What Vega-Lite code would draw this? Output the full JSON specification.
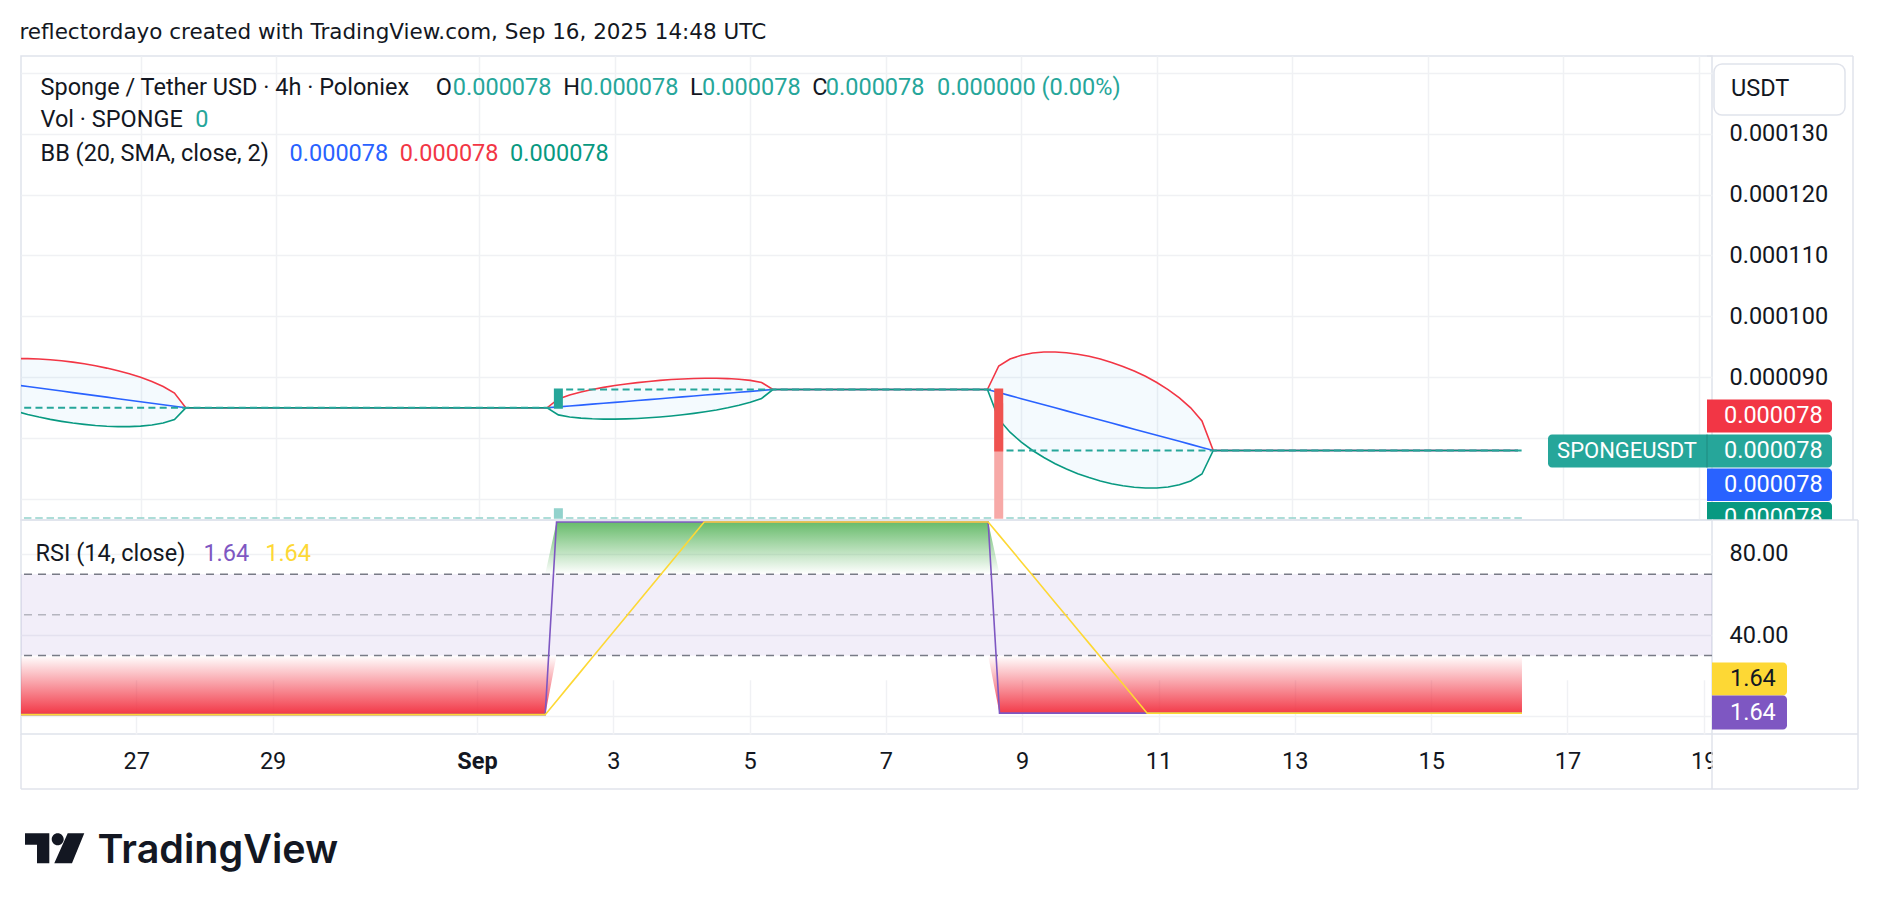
{
"$schema": "https://vega.github.io/schema/vega-lite/v6.json",
"background": "white",
"padding": {"left": 19, "top": 21, "right": 0, "bottom": 0},
"title": {"text": "reflectordayo created with TradingView.com, Sep 16, 2025 14:48 UTC", "anchor": "start", "frame": "bounds", "font": "DejaVu Sans", "fontSize": 21.5, "fontWeight": "normal", "color": "#131722", "offset": 11.5},
"config": {
  "font": "Roboto",
  "view": {"stroke": "#e0e3eb", "strokeWidth": 1.5},
  "axis": {"domain": false, "ticks": false, "tickSize": 0, "labelFont": "Roboto", "labelFontSize": 23.5, "labelColor": "#131722", "gridColor": "#f0f1f4", "gridWidth": 1.5}
},
"datasets": {"bars": [
{"time":"2025-08-25T04:00:00Z","open":0.000085,"close":0.000085,"volume":0,"upper":0.00009308,"basis":0.00008875,"lower":0.00008442,"rsi":0.9,"rsi_ma":0.9},
{"time":"2025-08-25T08:00:00Z","open":0.000085,"close":0.000085,"volume":0,"upper":0.00009308,"basis":0.0000885,"lower":0.00008392,"rsi":0.9,"rsi_ma":0.9},
{"time":"2025-08-25T12:00:00Z","open":0.000085,"close":0.000085,"volume":0,"upper":0.00009302,"basis":0.00008825,"lower":0.00008348,"rsi":0.9,"rsi_ma":0.9},
{"time":"2025-08-25T16:00:00Z","open":0.000085,"close":0.000085,"volume":0,"upper":0.0000929,"basis":0.000088,"lower":0.0000831,"rsi":0.9,"rsi_ma":0.9},
{"time":"2025-08-25T20:00:00Z","open":0.000085,"close":0.000085,"volume":0,"upper":0.00009272,"basis":0.00008775,"lower":0.00008278,"rsi":0.9,"rsi_ma":0.9},
{"time":"2025-08-26T00:00:00Z","open":0.000085,"close":0.000085,"volume":0,"upper":0.0000925,"basis":0.0000875,"lower":0.0000825,"rsi":0.9,"rsi_ma":0.9},
{"time":"2025-08-26T04:00:00Z","open":0.000085,"close":0.000085,"volume":0,"upper":0.00009222,"basis":0.00008725,"lower":0.00008228,"rsi":0.9,"rsi_ma":0.9},
{"time":"2025-08-26T08:00:00Z","open":0.000085,"close":0.000085,"volume":0,"upper":0.0000919,"basis":0.000087,"lower":0.0000821,"rsi":0.9,"rsi_ma":0.9},
{"time":"2025-08-26T12:00:00Z","open":0.000085,"close":0.000085,"volume":0,"upper":0.00009152,"basis":0.00008675,"lower":0.00008198,"rsi":0.9,"rsi_ma":0.9},
{"time":"2025-08-26T16:00:00Z","open":0.000085,"close":0.000085,"volume":0,"upper":0.00009108,"basis":0.0000865,"lower":0.00008192,"rsi":0.9,"rsi_ma":0.9},
{"time":"2025-08-26T20:00:00Z","open":0.000085,"close":0.000085,"volume":0,"upper":0.00009058,"basis":0.00008625,"lower":0.00008192,"rsi":0.9,"rsi_ma":0.9},
{"time":"2025-08-27T00:00:00Z","open":0.000085,"close":0.000085,"volume":0,"upper":0.00009,"basis":0.000086,"lower":0.000082,"rsi":0.9,"rsi_ma":0.9},
{"time":"2025-08-27T04:00:00Z","open":0.000085,"close":0.000085,"volume":0,"upper":0.00008932,"basis":0.00008575,"lower":0.00008218,"rsi":0.9,"rsi_ma":0.9},
{"time":"2025-08-27T08:00:00Z","open":0.000085,"close":0.000085,"volume":0,"upper":0.0000885,"basis":0.0000855,"lower":0.0000825,"rsi":0.9,"rsi_ma":0.9},
{"time":"2025-08-27T12:00:00Z","open":0.000085,"close":0.000085,"volume":0,"upper":0.00008743,"basis":0.00008525,"lower":0.00008307,"rsi":0.9,"rsi_ma":0.9},
{"time":"2025-08-27T16:00:00Z","open":0.000085,"close":0.000085,"volume":0,"upper":0.000085,"basis":0.000085,"lower":0.000085,"rsi":0.9,"rsi_ma":0.9},
{"time":"2025-08-27T20:00:00Z","open":0.000085,"close":0.000085,"volume":0,"upper":0.000085,"basis":0.000085,"lower":0.000085,"rsi":0.9,"rsi_ma":0.9},
{"time":"2025-08-28T00:00:00Z","open":0.000085,"close":0.000085,"volume":0,"upper":0.000085,"basis":0.000085,"lower":0.000085,"rsi":0.9,"rsi_ma":0.9},
{"time":"2025-08-28T04:00:00Z","open":0.000085,"close":0.000085,"volume":0,"upper":0.000085,"basis":0.000085,"lower":0.000085,"rsi":0.9,"rsi_ma":0.9},
{"time":"2025-08-28T08:00:00Z","open":0.000085,"close":0.000085,"volume":0,"upper":0.000085,"basis":0.000085,"lower":0.000085,"rsi":0.9,"rsi_ma":0.9},
{"time":"2025-08-28T12:00:00Z","open":0.000085,"close":0.000085,"volume":0,"upper":0.000085,"basis":0.000085,"lower":0.000085,"rsi":0.9,"rsi_ma":0.9},
{"time":"2025-08-28T16:00:00Z","open":0.000085,"close":0.000085,"volume":0,"upper":0.000085,"basis":0.000085,"lower":0.000085,"rsi":0.9,"rsi_ma":0.9},
{"time":"2025-08-28T20:00:00Z","open":0.000085,"close":0.000085,"volume":0,"upper":0.000085,"basis":0.000085,"lower":0.000085,"rsi":0.9,"rsi_ma":0.9},
{"time":"2025-08-29T00:00:00Z","open":0.000085,"close":0.000085,"volume":0,"upper":0.000085,"basis":0.000085,"lower":0.000085,"rsi":0.9,"rsi_ma":0.9},
{"time":"2025-08-29T04:00:00Z","open":0.000085,"close":0.000085,"volume":0,"upper":0.000085,"basis":0.000085,"lower":0.000085,"rsi":0.9,"rsi_ma":0.9},
{"time":"2025-08-29T08:00:00Z","open":0.000085,"close":0.000085,"volume":0,"upper":0.000085,"basis":0.000085,"lower":0.000085,"rsi":0.9,"rsi_ma":0.9},
{"time":"2025-08-29T12:00:00Z","open":0.000085,"close":0.000085,"volume":0,"upper":0.000085,"basis":0.000085,"lower":0.000085,"rsi":0.9,"rsi_ma":0.9},
{"time":"2025-08-29T16:00:00Z","open":0.000085,"close":0.000085,"volume":0,"upper":0.000085,"basis":0.000085,"lower":0.000085,"rsi":0.9,"rsi_ma":0.9},
{"time":"2025-08-29T20:00:00Z","open":0.000085,"close":0.000085,"volume":0,"upper":0.000085,"basis":0.000085,"lower":0.000085,"rsi":0.9,"rsi_ma":0.9},
{"time":"2025-08-30T00:00:00Z","open":0.000085,"close":0.000085,"volume":0,"upper":0.000085,"basis":0.000085,"lower":0.000085,"rsi":0.9,"rsi_ma":0.9},
{"time":"2025-08-30T04:00:00Z","open":0.000085,"close":0.000085,"volume":0,"upper":0.000085,"basis":0.000085,"lower":0.000085,"rsi":0.9,"rsi_ma":0.9},
{"time":"2025-08-30T08:00:00Z","open":0.000085,"close":0.000085,"volume":0,"upper":0.000085,"basis":0.000085,"lower":0.000085,"rsi":0.9,"rsi_ma":0.9},
{"time":"2025-08-30T12:00:00Z","open":0.000085,"close":0.000085,"volume":0,"upper":0.000085,"basis":0.000085,"lower":0.000085,"rsi":0.9,"rsi_ma":0.9},
{"time":"2025-08-30T16:00:00Z","open":0.000085,"close":0.000085,"volume":0,"upper":0.000085,"basis":0.000085,"lower":0.000085,"rsi":0.9,"rsi_ma":0.9},
{"time":"2025-08-30T20:00:00Z","open":0.000085,"close":0.000085,"volume":0,"upper":0.000085,"basis":0.000085,"lower":0.000085,"rsi":0.9,"rsi_ma":0.9},
{"time":"2025-08-31T00:00:00Z","open":0.000085,"close":0.000085,"volume":0,"upper":0.000085,"basis":0.000085,"lower":0.000085,"rsi":0.9,"rsi_ma":0.9},
{"time":"2025-08-31T04:00:00Z","open":0.000085,"close":0.000085,"volume":0,"upper":0.000085,"basis":0.000085,"lower":0.000085,"rsi":0.9,"rsi_ma":0.9},
{"time":"2025-08-31T08:00:00Z","open":0.000085,"close":0.000085,"volume":0,"upper":0.000085,"basis":0.000085,"lower":0.000085,"rsi":0.9,"rsi_ma":0.9},
{"time":"2025-08-31T12:00:00Z","open":0.000085,"close":0.000085,"volume":0,"upper":0.000085,"basis":0.000085,"lower":0.000085,"rsi":0.9,"rsi_ma":0.9},
{"time":"2025-08-31T16:00:00Z","open":0.000085,"close":0.000085,"volume":0,"upper":0.000085,"basis":0.000085,"lower":0.000085,"rsi":0.9,"rsi_ma":0.9},
{"time":"2025-08-31T20:00:00Z","open":0.000085,"close":0.000085,"volume":0,"upper":0.000085,"basis":0.000085,"lower":0.000085,"rsi":0.9,"rsi_ma":0.9},
{"time":"2025-09-01T00:00:00Z","open":0.000085,"close":0.000085,"volume":0,"upper":0.000085,"basis":0.000085,"lower":0.000085,"rsi":0.9,"rsi_ma":0.9},
{"time":"2025-09-01T04:00:00Z","open":0.000085,"close":0.000085,"volume":0,"upper":0.000085,"basis":0.000085,"lower":0.000085,"rsi":0.9,"rsi_ma":0.9},
{"time":"2025-09-01T08:00:00Z","open":0.000085,"close":0.000085,"volume":0,"upper":0.000085,"basis":0.000085,"lower":0.000085,"rsi":0.9,"rsi_ma":0.9},
{"time":"2025-09-01T12:00:00Z","open":0.000085,"close":0.000085,"volume":0,"upper":0.000085,"basis":0.000085,"lower":0.000085,"rsi":0.9,"rsi_ma":0.9},
{"time":"2025-09-01T16:00:00Z","open":0.000085,"close":0.000085,"volume":0,"upper":0.000085,"basis":0.000085,"lower":0.000085,"rsi":0.9,"rsi_ma":0.9},
{"time":"2025-09-01T20:00:00Z","open":0.000085,"close":0.000085,"volume":0,"upper":0.000085,"basis":0.000085,"lower":0.000085,"rsi":0.9,"rsi_ma":0.9},
{"time":"2025-09-02T00:00:00Z","open":0.000085,"close":0.000085,"volume":0,"upper":0.000085,"basis":0.000085,"lower":0.000085,"rsi":0.9,"rsi_ma":0.9},
{"time":"2025-09-02T04:00:00Z","open":0.000085,"close":0.000088,"volume":78,"upper":0.00008646,"basis":0.00008515,"lower":0.00008384,"rsi":95.7,"rsi_ma":7.67},
{"time":"2025-09-02T08:00:00Z","open":0.000088,"close":0.000088,"volume":0,"upper":0.0000871,"basis":0.0000853,"lower":0.0000835,"rsi":95.7,"rsi_ma":14.44},
{"time":"2025-09-02T12:00:00Z","open":0.000088,"close":0.000088,"volume":0,"upper":0.00008759,"basis":0.00008545,"lower":0.00008331,"rsi":95.7,"rsi_ma":21.21},
{"time":"2025-09-02T16:00:00Z","open":0.000088,"close":0.000088,"volume":0,"upper":0.000088,"basis":0.0000856,"lower":0.0000832,"rsi":95.7,"rsi_ma":27.99},
{"time":"2025-09-02T20:00:00Z","open":0.000088,"close":0.000088,"volume":0,"upper":0.00008835,"basis":0.00008575,"lower":0.00008315,"rsi":95.7,"rsi_ma":34.76},
{"time":"2025-09-03T00:00:00Z","open":0.000088,"close":0.000088,"volume":0,"upper":0.00008865,"basis":0.0000859,"lower":0.00008315,"rsi":95.7,"rsi_ma":41.53},
{"time":"2025-09-03T04:00:00Z","open":0.000088,"close":0.000088,"volume":0,"upper":0.00008891,"basis":0.00008605,"lower":0.00008319,"rsi":95.7,"rsi_ma":48.3},
{"time":"2025-09-03T08:00:00Z","open":0.000088,"close":0.000088,"volume":0,"upper":0.00008914,"basis":0.0000862,"lower":0.00008326,"rsi":95.7,"rsi_ma":55.07},
{"time":"2025-09-03T12:00:00Z","open":0.000088,"close":0.000088,"volume":0,"upper":0.00008933,"basis":0.00008635,"lower":0.00008337,"rsi":95.7,"rsi_ma":61.84},
{"time":"2025-09-03T16:00:00Z","open":0.000088,"close":0.000088,"volume":0,"upper":0.0000895,"basis":0.0000865,"lower":0.0000835,"rsi":95.7,"rsi_ma":68.61},
{"time":"2025-09-03T20:00:00Z","open":0.000088,"close":0.000088,"volume":0,"upper":0.00008964,"basis":0.00008665,"lower":0.00008367,"rsi":95.7,"rsi_ma":75.39},
{"time":"2025-09-04T00:00:00Z","open":0.000088,"close":0.000088,"volume":0,"upper":0.00008974,"basis":0.0000868,"lower":0.00008386,"rsi":95.7,"rsi_ma":82.16},
{"time":"2025-09-04T04:00:00Z","open":0.000088,"close":0.000088,"volume":0,"upper":0.00008981,"basis":0.00008695,"lower":0.00008409,"rsi":95.7,"rsi_ma":88.93},
{"time":"2025-09-04T08:00:00Z","open":0.000088,"close":0.000088,"volume":0,"upper":0.00008985,"basis":0.0000871,"lower":0.00008435,"rsi":95.7,"rsi_ma":95.7},
{"time":"2025-09-04T12:00:00Z","open":0.000088,"close":0.000088,"volume":0,"upper":0.00008985,"basis":0.00008725,"lower":0.00008465,"rsi":95.7,"rsi_ma":95.7},
{"time":"2025-09-04T16:00:00Z","open":0.000088,"close":0.000088,"volume":0,"upper":0.0000898,"basis":0.0000874,"lower":0.000085,"rsi":95.7,"rsi_ma":95.7},
{"time":"2025-09-04T20:00:00Z","open":0.000088,"close":0.000088,"volume":0,"upper":0.00008969,"basis":0.00008755,"lower":0.00008541,"rsi":95.7,"rsi_ma":95.7},
{"time":"2025-09-05T00:00:00Z","open":0.000088,"close":0.000088,"volume":0,"upper":0.0000895,"basis":0.0000877,"lower":0.0000859,"rsi":95.7,"rsi_ma":95.7},
{"time":"2025-09-05T04:00:00Z","open":0.000088,"close":0.000088,"volume":0,"upper":0.00008916,"basis":0.00008785,"lower":0.00008654,"rsi":95.7,"rsi_ma":95.7},
{"time":"2025-09-05T08:00:00Z","open":0.000088,"close":0.000088,"volume":0,"upper":0.000088,"basis":0.000088,"lower":0.000088,"rsi":95.7,"rsi_ma":95.7},
{"time":"2025-09-05T12:00:00Z","open":0.000088,"close":0.000088,"volume":0,"upper":0.000088,"basis":0.000088,"lower":0.000088,"rsi":95.7,"rsi_ma":95.7},
{"time":"2025-09-05T16:00:00Z","open":0.000088,"close":0.000088,"volume":0,"upper":0.000088,"basis":0.000088,"lower":0.000088,"rsi":95.7,"rsi_ma":95.7},
{"time":"2025-09-05T20:00:00Z","open":0.000088,"close":0.000088,"volume":0,"upper":0.000088,"basis":0.000088,"lower":0.000088,"rsi":95.7,"rsi_ma":95.7},
{"time":"2025-09-06T00:00:00Z","open":0.000088,"close":0.000088,"volume":0,"upper":0.000088,"basis":0.000088,"lower":0.000088,"rsi":95.7,"rsi_ma":95.7},
{"time":"2025-09-06T04:00:00Z","open":0.000088,"close":0.000088,"volume":0,"upper":0.000088,"basis":0.000088,"lower":0.000088,"rsi":95.7,"rsi_ma":95.7},
{"time":"2025-09-06T08:00:00Z","open":0.000088,"close":0.000088,"volume":0,"upper":0.000088,"basis":0.000088,"lower":0.000088,"rsi":95.7,"rsi_ma":95.7},
{"time":"2025-09-06T12:00:00Z","open":0.000088,"close":0.000088,"volume":0,"upper":0.000088,"basis":0.000088,"lower":0.000088,"rsi":95.7,"rsi_ma":95.7},
{"time":"2025-09-06T16:00:00Z","open":0.000088,"close":0.000088,"volume":0,"upper":0.000088,"basis":0.000088,"lower":0.000088,"rsi":95.7,"rsi_ma":95.7},
{"time":"2025-09-06T20:00:00Z","open":0.000088,"close":0.000088,"volume":0,"upper":0.000088,"basis":0.000088,"lower":0.000088,"rsi":95.7,"rsi_ma":95.7},
{"time":"2025-09-07T00:00:00Z","open":0.000088,"close":0.000088,"volume":0,"upper":0.000088,"basis":0.000088,"lower":0.000088,"rsi":95.7,"rsi_ma":95.7},
{"time":"2025-09-07T04:00:00Z","open":0.000088,"close":0.000088,"volume":0,"upper":0.000088,"basis":0.000088,"lower":0.000088,"rsi":95.7,"rsi_ma":95.7},
{"time":"2025-09-07T08:00:00Z","open":0.000088,"close":0.000088,"volume":0,"upper":0.000088,"basis":0.000088,"lower":0.000088,"rsi":95.7,"rsi_ma":95.7},
{"time":"2025-09-07T12:00:00Z","open":0.000088,"close":0.000088,"volume":0,"upper":0.000088,"basis":0.000088,"lower":0.000088,"rsi":95.7,"rsi_ma":95.7},
{"time":"2025-09-07T16:00:00Z","open":0.000088,"close":0.000088,"volume":0,"upper":0.000088,"basis":0.000088,"lower":0.000088,"rsi":95.7,"rsi_ma":95.7},
{"time":"2025-09-07T20:00:00Z","open":0.000088,"close":0.000088,"volume":0,"upper":0.000088,"basis":0.000088,"lower":0.000088,"rsi":95.7,"rsi_ma":95.7},
{"time":"2025-09-08T00:00:00Z","open":0.000088,"close":0.000088,"volume":0,"upper":0.000088,"basis":0.000088,"lower":0.000088,"rsi":95.7,"rsi_ma":95.7},
{"time":"2025-09-08T04:00:00Z","open":0.000088,"close":0.000088,"volume":0,"upper":0.000088,"basis":0.000088,"lower":0.000088,"rsi":95.7,"rsi_ma":95.7},
{"time":"2025-09-08T08:00:00Z","open":0.000088,"close":0.000088,"volume":0,"upper":0.000088,"basis":0.000088,"lower":0.000088,"rsi":95.7,"rsi_ma":95.7},
{"time":"2025-09-08T12:00:00Z","open":0.000088,"close":0.000088,"volume":0,"upper":0.000088,"basis":0.000088,"lower":0.000088,"rsi":95.7,"rsi_ma":95.7},
{"time":"2025-09-08T16:00:00Z","open":0.000088,"close":0.000078,"volume":1000,"upper":0.00009186,"basis":0.0000875,"lower":0.00008314,"rsi":1.64,"rsi_ma":88.98},
{"time":"2025-09-08T20:00:00Z","open":0.000078,"close":0.000078,"volume":0,"upper":0.000093,"basis":0.000087,"lower":0.000081,"rsi":1.64,"rsi_ma":82.26},
{"time":"2025-09-09T00:00:00Z","open":0.000078,"close":0.000078,"volume":0,"upper":0.00009364,"basis":0.0000865,"lower":0.00007936,"rsi":1.64,"rsi_ma":75.54},
{"time":"2025-09-09T04:00:00Z","open":0.000078,"close":0.000078,"volume":0,"upper":0.000094,"basis":0.000086,"lower":0.000078,"rsi":1.64,"rsi_ma":68.83},
{"time":"2025-09-09T08:00:00Z","open":0.000078,"close":0.000078,"volume":0,"upper":0.00009416,"basis":0.0000855,"lower":0.00007684,"rsi":1.64,"rsi_ma":62.11},
{"time":"2025-09-09T12:00:00Z","open":0.000078,"close":0.000078,"volume":0,"upper":0.00009417,"basis":0.000085,"lower":0.00007583,"rsi":1.64,"rsi_ma":55.39},
{"time":"2025-09-09T16:00:00Z","open":0.000078,"close":0.000078,"volume":0,"upper":0.00009404,"basis":0.0000845,"lower":0.00007496,"rsi":1.64,"rsi_ma":48.67},
{"time":"2025-09-09T20:00:00Z","open":0.000078,"close":0.000078,"volume":0,"upper":0.0000938,"basis":0.000084,"lower":0.0000742,"rsi":1.64,"rsi_ma":41.95},
{"time":"2025-09-10T00:00:00Z","open":0.000078,"close":0.000078,"volume":0,"upper":0.00009345,"basis":0.0000835,"lower":0.00007355,"rsi":1.64,"rsi_ma":35.23},
{"time":"2025-09-10T04:00:00Z","open":0.000078,"close":0.000078,"volume":0,"upper":0.000093,"basis":0.000083,"lower":0.000073,"rsi":1.64,"rsi_ma":28.52},
{"time":"2025-09-10T08:00:00Z","open":0.000078,"close":0.000078,"volume":0,"upper":0.00009245,"basis":0.0000825,"lower":0.00007255,"rsi":1.64,"rsi_ma":21.8},
{"time":"2025-09-10T12:00:00Z","open":0.000078,"close":0.000078,"volume":0,"upper":0.0000918,"basis":0.000082,"lower":0.0000722,"rsi":1.64,"rsi_ma":15.08},
{"time":"2025-09-10T16:00:00Z","open":0.000078,"close":0.000078,"volume":0,"upper":0.00009104,"basis":0.0000815,"lower":0.00007196,"rsi":1.64,"rsi_ma":8.36},
{"time":"2025-09-10T20:00:00Z","open":0.000078,"close":0.000078,"volume":0,"upper":0.00009017,"basis":0.000081,"lower":0.00007183,"rsi":1.64,"rsi_ma":1.64},
{"time":"2025-09-11T00:00:00Z","open":0.000078,"close":0.000078,"volume":0,"upper":0.00008916,"basis":0.0000805,"lower":0.00007184,"rsi":1.64,"rsi_ma":1.64},
{"time":"2025-09-11T04:00:00Z","open":0.000078,"close":0.000078,"volume":0,"upper":0.000088,"basis":0.00008,"lower":0.000072,"rsi":1.64,"rsi_ma":1.64},
{"time":"2025-09-11T08:00:00Z","open":0.000078,"close":0.000078,"volume":0,"upper":0.00008664,"basis":0.0000795,"lower":0.00007236,"rsi":1.64,"rsi_ma":1.64},
{"time":"2025-09-11T12:00:00Z","open":0.000078,"close":0.000078,"volume":0,"upper":0.000085,"basis":0.000079,"lower":0.000073,"rsi":1.64,"rsi_ma":1.64},
{"time":"2025-09-11T16:00:00Z","open":0.000078,"close":0.000078,"volume":0,"upper":0.00008286,"basis":0.0000785,"lower":0.00007414,"rsi":1.64,"rsi_ma":1.64},
{"time":"2025-09-11T20:00:00Z","open":0.000078,"close":0.000078,"volume":0,"upper":0.000078,"basis":0.000078,"lower":0.000078,"rsi":1.64,"rsi_ma":1.64},
{"time":"2025-09-12T00:00:00Z","open":0.000078,"close":0.000078,"volume":0,"upper":0.000078,"basis":0.000078,"lower":0.000078,"rsi":1.64,"rsi_ma":1.64},
{"time":"2025-09-12T04:00:00Z","open":0.000078,"close":0.000078,"volume":0,"upper":0.000078,"basis":0.000078,"lower":0.000078,"rsi":1.64,"rsi_ma":1.64},
{"time":"2025-09-12T08:00:00Z","open":0.000078,"close":0.000078,"volume":0,"upper":0.000078,"basis":0.000078,"lower":0.000078,"rsi":1.64,"rsi_ma":1.64},
{"time":"2025-09-12T12:00:00Z","open":0.000078,"close":0.000078,"volume":0,"upper":0.000078,"basis":0.000078,"lower":0.000078,"rsi":1.64,"rsi_ma":1.64},
{"time":"2025-09-12T16:00:00Z","open":0.000078,"close":0.000078,"volume":0,"upper":0.000078,"basis":0.000078,"lower":0.000078,"rsi":1.64,"rsi_ma":1.64},
{"time":"2025-09-12T20:00:00Z","open":0.000078,"close":0.000078,"volume":0,"upper":0.000078,"basis":0.000078,"lower":0.000078,"rsi":1.64,"rsi_ma":1.64},
{"time":"2025-09-13T00:00:00Z","open":0.000078,"close":0.000078,"volume":0,"upper":0.000078,"basis":0.000078,"lower":0.000078,"rsi":1.64,"rsi_ma":1.64},
{"time":"2025-09-13T04:00:00Z","open":0.000078,"close":0.000078,"volume":0,"upper":0.000078,"basis":0.000078,"lower":0.000078,"rsi":1.64,"rsi_ma":1.64},
{"time":"2025-09-13T08:00:00Z","open":0.000078,"close":0.000078,"volume":0,"upper":0.000078,"basis":0.000078,"lower":0.000078,"rsi":1.64,"rsi_ma":1.64},
{"time":"2025-09-13T12:00:00Z","open":0.000078,"close":0.000078,"volume":0,"upper":0.000078,"basis":0.000078,"lower":0.000078,"rsi":1.64,"rsi_ma":1.64},
{"time":"2025-09-13T16:00:00Z","open":0.000078,"close":0.000078,"volume":0,"upper":0.000078,"basis":0.000078,"lower":0.000078,"rsi":1.64,"rsi_ma":1.64},
{"time":"2025-09-13T20:00:00Z","open":0.000078,"close":0.000078,"volume":0,"upper":0.000078,"basis":0.000078,"lower":0.000078,"rsi":1.64,"rsi_ma":1.64},
{"time":"2025-09-14T00:00:00Z","open":0.000078,"close":0.000078,"volume":0,"upper":0.000078,"basis":0.000078,"lower":0.000078,"rsi":1.64,"rsi_ma":1.64},
{"time":"2025-09-14T04:00:00Z","open":0.000078,"close":0.000078,"volume":0,"upper":0.000078,"basis":0.000078,"lower":0.000078,"rsi":1.64,"rsi_ma":1.64},
{"time":"2025-09-14T08:00:00Z","open":0.000078,"close":0.000078,"volume":0,"upper":0.000078,"basis":0.000078,"lower":0.000078,"rsi":1.64,"rsi_ma":1.64},
{"time":"2025-09-14T12:00:00Z","open":0.000078,"close":0.000078,"volume":0,"upper":0.000078,"basis":0.000078,"lower":0.000078,"rsi":1.64,"rsi_ma":1.64},
{"time":"2025-09-14T16:00:00Z","open":0.000078,"close":0.000078,"volume":0,"upper":0.000078,"basis":0.000078,"lower":0.000078,"rsi":1.64,"rsi_ma":1.64},
{"time":"2025-09-14T20:00:00Z","open":0.000078,"close":0.000078,"volume":0,"upper":0.000078,"basis":0.000078,"lower":0.000078,"rsi":1.64,"rsi_ma":1.64},
{"time":"2025-09-15T00:00:00Z","open":0.000078,"close":0.000078,"volume":0,"upper":0.000078,"basis":0.000078,"lower":0.000078,"rsi":1.64,"rsi_ma":1.64},
{"time":"2025-09-15T04:00:00Z","open":0.000078,"close":0.000078,"volume":0,"upper":0.000078,"basis":0.000078,"lower":0.000078,"rsi":1.64,"rsi_ma":1.64},
{"time":"2025-09-15T08:00:00Z","open":0.000078,"close":0.000078,"volume":0,"upper":0.000078,"basis":0.000078,"lower":0.000078,"rsi":1.64,"rsi_ma":1.64},
{"time":"2025-09-15T12:00:00Z","open":0.000078,"close":0.000078,"volume":0,"upper":0.000078,"basis":0.000078,"lower":0.000078,"rsi":1.64,"rsi_ma":1.64},
{"time":"2025-09-15T16:00:00Z","open":0.000078,"close":0.000078,"volume":0,"upper":0.000078,"basis":0.000078,"lower":0.000078,"rsi":1.64,"rsi_ma":1.64},
{"time":"2025-09-15T20:00:00Z","open":0.000078,"close":0.000078,"volume":0,"upper":0.000078,"basis":0.000078,"lower":0.000078,"rsi":1.64,"rsi_ma":1.64},
{"time":"2025-09-16T00:00:00Z","open":0.000078,"close":0.000078,"volume":0,"upper":0.000078,"basis":0.000078,"lower":0.000078,"rsi":1.64,"rsi_ma":1.64},
{"time":"2025-09-16T04:00:00Z","open":0.000078,"close":0.000078,"volume":0,"upper":0.000078,"basis":0.000078,"lower":0.000078,"rsi":1.64,"rsi_ma":1.64},
{"time":"2025-09-16T08:00:00Z","open":0.000078,"close":0.000078,"volume":0,"upper":0.000078,"basis":0.000078,"lower":0.000078,"rsi":1.64,"rsi_ma":1.64}
]},
"bounds": "flush",
"spacing": 0,
"vconcat": [
{
 "width": 1691, "height": 464,
 "data": {"name": "bars"},
 "layer": [
  {"mark": {"type": "bar", "size": 7.5, "strokeWidth": 1.5, "yOffset": -2, "y2Offset": -2, "clip": true},
   "encoding": {
    "x": {"field": "time", "type": "temporal", "scale": {"type": "utc", "domain": [{"year":2025,"month":"Aug","date":25,"hours":7,"minutes":24,"utc":true},{"year":2025,"month":"Sep","date":19,"hours":2,"minutes":55,"utc":true}]},
          "axis": {"values": [{"year":2025,"month":"Aug","date":27,"utc":true},{"year":2025,"month":"Aug","date":29,"utc":true},{"year":2025,"month":"Sep","date":1,"utc":true},{"year":2025,"month":"Sep","date":3,"utc":true},{"year":2025,"month":"Sep","date":5,"utc":true},{"year":2025,"month":"Sep","date":7,"utc":true},{"year":2025,"month":"Sep","date":9,"utc":true},{"year":2025,"month":"Sep","date":11,"utc":true},{"year":2025,"month":"Sep","date":13,"utc":true},{"year":2025,"month":"Sep","date":15,"utc":true},{"year":2025,"month":"Sep","date":17,"utc":true},{"year":2025,"month":"Sep","date":19,"utc":true}], "labels": false, "grid": true, "title": null}},
    "y": {"field": "volume", "type": "quantitative", "scale": {"domain": [0, 4070], "nice": false}, "axis": null},
    "fill": {"condition": {"test": "datum.close < datum.open", "value": "#f7a9a7"}, "value": "#92d2cc"},
    "stroke": {"condition": {"test": "datum.close < datum.open", "value": "#f7a9a7"}, "value": "#92d2cc"}
   }},
  {"layer": [
   {"mark": {"type": "area", "fill": "#2196f3", "fillOpacity": 0.05, "clip": true},
    "encoding": {"x": {"field": "time", "type": "temporal"},
     "y": {"field": "upper", "type": "quantitative", "scale": {"domain": [0.00006659, 0.00014274], "nice": false, "zero": false},
           "axis": {"orient": "right", "values": [0.00007, 0.00008, 0.00009, 0.0001, 0.00011, 0.00012, 0.00013, 0.00014], "labelExpr": "datum.value > 0.0000855 && datum.value < 0.0001355 ? format(datum.value, '.6f') : ''", "grid": true, "labelAlign": "left", "labelBaseline": "middle", "labelPadding": 17, "title": null}},
     "y2": {"field": "lower"}}},
   {"mark": {"type": "line", "color": "#2962ff", "strokeWidth": 1.6, "clip": true}, "encoding": {"x": {"field": "time", "type": "temporal"}, "y": {"field": "basis", "type": "quantitative"}}},
   {"mark": {"type": "line", "color": "#f23645", "strokeWidth": 1.6, "clip": true}, "encoding": {"x": {"field": "time", "type": "temporal"}, "y": {"field": "upper", "type": "quantitative"}}},
   {"mark": {"type": "line", "color": "#089981", "strokeWidth": 1.6, "clip": true}, "encoding": {"x": {"field": "time", "type": "temporal"}, "y": {"field": "lower", "type": "quantitative"}}},
   {"mark": {"type": "bar", "size": 7, "strokeWidth": 2, "clip": true},
    "encoding": {"x": {"field": "time", "type": "temporal"}, "y": {"field": "open", "type": "quantitative"}, "y2": {"field": "close"},
     "fill": {"condition": {"test": "datum.close < datum.open", "value": "#ef5350"}, "value": "#26a69a"},
     "stroke": {"condition": {"test": "datum.close < datum.open", "value": "#ef5350"}, "value": "#26a69a"}}},

   {"data": {"values": [{}]}, "mark": {"type": "text", "text": "Sponge / Tether USD · 4h · Poloniex", "align": "left", "baseline": "alphabetic", "fontSize": 23.5, "color": "#131722"}, "encoding": {"x": {"datum": {"year":2025,"month":"Aug","date":25,"hours":12,"minutes":32,"utc":true}, "type": "temporal"}, "y": {"datum": 0.00013639, "type": "quantitative"}}},
   {"data": {"values": [{}]}, "mark": {"type": "text", "text": "O", "align": "left", "baseline": "alphabetic", "fontSize": 23.5, "color": "#131722"}, "encoding": {"x": {"datum": {"year":2025,"month":"Aug","date":31,"hours":8,"minutes":31,"utc":true}, "type": "temporal"}, "y": {"datum": 0.00013639, "type": "quantitative"}}},
   {"data": {"values": [{}]}, "mark": {"type": "text", "text": "0.000078", "align": "left", "baseline": "alphabetic", "fontSize": 23.5, "color": "#26a69a"}, "encoding": {"x": {"datum": {"year":2025,"month":"Aug","date":31,"hours":14,"minutes":37,"utc":true}, "type": "temporal"}, "y": {"datum": 0.00013639, "type": "quantitative"}}},
   {"data": {"values": [{}]}, "mark": {"type": "text", "text": "H", "align": "left", "baseline": "alphabetic", "fontSize": 23.5, "color": "#131722"}, "encoding": {"x": {"datum": {"year":2025,"month":"Sep","date":2,"hours":5,"minutes":42,"utc":true}, "type": "temporal"}, "y": {"datum": 0.00013639, "type": "quantitative"}}},
   {"data": {"values": [{}]}, "mark": {"type": "text", "text": "0.000078", "align": "left", "baseline": "alphabetic", "fontSize": 23.5, "color": "#26a69a"}, "encoding": {"x": {"datum": {"year":2025,"month":"Sep","date":2,"hours":11,"minutes":35,"utc":true}, "type": "temporal"}, "y": {"datum": 0.00013639, "type": "quantitative"}}},
   {"data": {"values": [{}]}, "mark": {"type": "text", "text": "L", "align": "left", "baseline": "alphabetic", "fontSize": 23.5, "color": "#131722"}, "encoding": {"x": {"datum": {"year":2025,"month":"Sep","date":4,"hours":2,"minutes":38,"utc":true}, "type": "temporal"}, "y": {"datum": 0.00013639, "type": "quantitative"}}},
   {"data": {"values": [{}]}, "mark": {"type": "text", "text": "0.000078", "align": "left", "baseline": "alphabetic", "fontSize": 23.5, "color": "#26a69a"}, "encoding": {"x": {"datum": {"year":2025,"month":"Sep","date":4,"hours":6,"minutes":52,"utc":true}, "type": "temporal"}, "y": {"datum": 0.00013639, "type": "quantitative"}}},
   {"data": {"values": [{}]}, "mark": {"type": "text", "text": "C", "align": "left", "baseline": "alphabetic", "fontSize": 23.5, "color": "#131722"}, "encoding": {"x": {"datum": {"year":2025,"month":"Sep","date":5,"hours":21,"minutes":57,"utc":true}, "type": "temporal"}, "y": {"datum": 0.00013639, "type": "quantitative"}}},
   {"data": {"values": [{}]}, "mark": {"type": "text", "text": "0.000078", "align": "left", "baseline": "alphabetic", "fontSize": 23.5, "color": "#26a69a"}, "encoding": {"x": {"datum": {"year":2025,"month":"Sep","date":6,"hours":2,"minutes":45,"utc":true}, "type": "temporal"}, "y": {"datum": 0.00013639, "type": "quantitative"}}},
   {"data": {"values": [{}]}, "mark": {"type": "text", "text": "0.000000 (0.00%)", "align": "left", "baseline": "alphabetic", "fontSize": 23.5, "color": "#26a69a"}, "encoding": {"x": {"datum": {"year":2025,"month":"Sep","date":7,"hours":18,"minutes":7,"utc":true}, "type": "temporal"}, "y": {"datum": 0.00013639, "type": "quantitative"}}},
   {"data": {"values": [{}]}, "mark": {"type": "text", "text": "Vol · SPONGE", "align": "left", "baseline": "alphabetic", "fontSize": 23.5, "color": "#131722"}, "encoding": {"x": {"datum": {"year":2025,"month":"Aug","date":25,"hours":12,"minutes":32,"utc":true}, "type": "temporal"}, "y": {"datum": 0.00013102, "type": "quantitative"}}},
   {"data": {"values": [{}]}, "mark": {"type": "text", "text": "0", "align": "left", "baseline": "alphabetic", "fontSize": 23.5, "color": "#26a69a"}, "encoding": {"x": {"datum": {"year":2025,"month":"Aug","date":27,"hours":19,"minutes":24,"utc":true}, "type": "temporal"}, "y": {"datum": 0.00013102, "type": "quantitative"}}},
   {"data": {"values": [{}]}, "mark": {"type": "text", "text": "BB (20, SMA, close, 2)", "align": "left", "baseline": "alphabetic", "fontSize": 23.5, "color": "#131722"}, "encoding": {"x": {"datum": {"year":2025,"month":"Aug","date":25,"hours":12,"minutes":32,"utc":true}, "type": "temporal"}, "y": {"datum": 0.00012548, "type": "quantitative"}}},
   {"data": {"values": [{}]}, "mark": {"type": "text", "text": "0.000078", "align": "left", "baseline": "alphabetic", "fontSize": 23.5, "color": "#2962ff"}, "encoding": {"x": {"datum": {"year":2025,"month":"Aug","date":29,"hours":4,"minutes":47,"utc":true}, "type": "temporal"}, "y": {"datum": 0.00012548, "type": "quantitative"}}},
   {"data": {"values": [{}]}, "mark": {"type": "text", "text": "0.000078", "align": "left", "baseline": "alphabetic", "fontSize": 23.5, "color": "#f23645"}, "encoding": {"x": {"datum": {"year":2025,"month":"Aug","date":30,"hours":19,"minutes":51,"utc":true}, "type": "temporal"}, "y": {"datum": 0.00012548, "type": "quantitative"}}},
   {"data": {"values": [{}]}, "mark": {"type": "text", "text": "0.000078", "align": "left", "baseline": "alphabetic", "fontSize": 23.5, "color": "#089981"}, "encoding": {"x": {"datum": {"year":2025,"month":"Sep","date":1,"hours":10,"minutes":54,"utc":true}, "type": "temporal"}, "y": {"datum": 0.00012548, "type": "quantitative"}}},

   {"data": {"values": [{}]}, "mark": {"type": "rect", "fill": "white", "stroke": "#e0e3eb", "strokeWidth": 1.5, "cornerRadius": 8, "xOffset": 7, "x2Offset": 138, "yOffset": 8, "y2Offset": 59},
    "encoding": {"x": {"datum": {"year":2025,"month":"Sep","date":19,"hours":2,"minutes":55,"utc":true}, "type": "temporal"}, "x2": {"datum": {"year":2025,"month":"Sep","date":19,"hours":2,"minutes":55,"utc":true}}, "y": {"datum": 0.00014274, "type": "quantitative"}, "y2": {"datum": 0.00014274}}},
   {"data": {"values": [{}]}, "mark": {"type": "text", "text": "USDT", "align": "left", "baseline": "middle", "fontSize": 23.5, "color": "#131722", "xOffset": 24, "yOffset": 33},
    "encoding": {"x": {"datum": {"year":2025,"month":"Sep","date":19,"hours":2,"minutes":55,"utc":true}, "type": "temporal"}, "y": {"datum": 0.00014274, "type": "quantitative"}}},

   {"data": {"values": [{}]}, "mark": {"type": "rect", "fill": "#f23645", "x2Offset": 125, "yOffset": -50.9, "y2Offset": -17.9, "cornerRadiusTopRight": 4, "cornerRadiusBottomRight": 4},
    "encoding": {"x": {"datum": {"year":2025,"month":"Sep","date":19,"hours":2,"minutes":55,"utc":true}, "type": "temporal"}, "x2": {"datum": {"year":2025,"month":"Sep","date":19,"hours":2,"minutes":55,"utc":true}}, "y": {"datum": 0.000078, "type": "quantitative"}, "y2": {"datum": 0.000078}}},
   {"data": {"values": [{}]}, "mark": {"type": "text", "text": "0.000078", "align": "left", "baseline": "middle", "fontSize": 23.5, "color": "white", "xOffset": 17, "yOffset": -34.4},
    "encoding": {"x": {"datum": {"year":2025,"month":"Sep","date":19,"hours":2,"minutes":55,"utc":true}, "type": "temporal"}, "y": {"datum": 0.000078, "type": "quantitative"}}},
   {"data": {"values": [{}]}, "mark": {"type": "rect", "fill": "#26a69a", "xOffset": -159, "x2Offset": 125, "yOffset": -15.9, "y2Offset": 17.1, "cornerRadius": 4},
    "encoding": {"x": {"datum": {"year":2025,"month":"Sep","date":19,"hours":2,"minutes":55,"utc":true}, "type": "temporal"}, "x2": {"datum": {"year":2025,"month":"Sep","date":19,"hours":2,"minutes":55,"utc":true}}, "y": {"datum": 0.000078, "type": "quantitative"}, "y2": {"datum": 0.000078}}},
   {"data": {"values": [{}]}, "mark": {"type": "rule", "color": "#1e8a80", "strokeWidth": 1, "yOffset": -15.9, "y2Offset": 17.1},
    "encoding": {"x": {"datum": {"year":2025,"month":"Sep","date":19,"hours":2,"minutes":55,"utc":true}, "type": "temporal"}, "y": {"datum": 0.000078, "type": "quantitative"}, "y2": {"datum": 0.000078}}},
   {"data": {"values": [{}]}, "mark": {"type": "text", "text": "SPONGEUSDT", "align": "center", "baseline": "middle", "fontSize": 22, "color": "white", "xOffset": -80, "yOffset": 0.6},
    "encoding": {"x": {"datum": {"year":2025,"month":"Sep","date":19,"hours":2,"minutes":55,"utc":true}, "type": "temporal"}, "y": {"datum": 0.000078, "type": "quantitative"}}},
   {"data": {"values": [{}]}, "mark": {"type": "text", "text": "0.000078", "align": "left", "baseline": "middle", "fontSize": 23.5, "color": "white", "xOffset": 17, "yOffset": 0.6},
    "encoding": {"x": {"datum": {"year":2025,"month":"Sep","date":19,"hours":2,"minutes":55,"utc":true}, "type": "temporal"}, "y": {"datum": 0.000078, "type": "quantitative"}}},
   {"data": {"values": [{}]}, "mark": {"type": "rect", "fill": "#2962ff", "x2Offset": 125, "yOffset": 18.1, "y2Offset": 50.6, "cornerRadiusTopRight": 4, "cornerRadiusBottomRight": 4},
    "encoding": {"x": {"datum": {"year":2025,"month":"Sep","date":19,"hours":2,"minutes":55,"utc":true}, "type": "temporal"}, "x2": {"datum": {"year":2025,"month":"Sep","date":19,"hours":2,"minutes":55,"utc":true}}, "y": {"datum": 0.000078, "type": "quantitative"}, "y2": {"datum": 0.000078}}},
   {"data": {"values": [{}]}, "mark": {"type": "text", "text": "0.000078", "align": "left", "baseline": "middle", "fontSize": 23.5, "color": "white", "xOffset": 17, "yOffset": 34.3},
    "encoding": {"x": {"datum": {"year":2025,"month":"Sep","date":19,"hours":2,"minutes":55,"utc":true}, "type": "temporal"}, "y": {"datum": 0.000078, "type": "quantitative"}}},
   {"data": {"values": [{}]}, "mark": {"type": "rect", "fill": "#089981", "x2Offset": 125, "yOffset": 51.6, "cornerRadiusTopRight": 4},
    "encoding": {"x": {"datum": {"year":2025,"month":"Sep","date":19,"hours":2,"minutes":55,"utc":true}, "type": "temporal"}, "x2": {"datum": {"year":2025,"month":"Sep","date":19,"hours":2,"minutes":55,"utc":true}}, "y": {"datum": 0.000078, "type": "quantitative"}, "y2": {"datum": 0.00006659}}},
   {"data": {"values": [{}]}, "mark": {"type": "text", "text": "0.000078", "align": "left", "baseline": "middle", "fontSize": 23.5, "color": "white", "xOffset": 17, "yOffset": 67.6},
    "encoding": {"x": {"datum": {"year":2025,"month":"Sep","date":19,"hours":2,"minutes":55,"utc":true}, "type": "temporal"}, "y": {"datum": 0.000078, "type": "quantitative"}}},

   {"data": {"values": [{}]}, "mark": {"type": "rule", "color": "#e0e3eb", "strokeWidth": 1.5, "x2Offset": 146},
    "encoding": {"x": {"datum": {"year":2025,"month":"Sep","date":19,"hours":2,"minutes":55,"utc":true}, "type": "temporal"}, "x2": {"datum": {"year":2025,"month":"Sep","date":19,"hours":2,"minutes":55,"utc":true}}, "y": {"datum": 0.00014274, "type": "quantitative"}}},
   {"data": {"values": [{}]}, "mark": {"type": "rule", "color": "#e0e3eb", "strokeWidth": 1.5, "xOffset": 146},
    "encoding": {"x": {"datum": {"year":2025,"month":"Sep","date":19,"hours":2,"minutes":55,"utc":true}, "type": "temporal"}, "y": {"datum": 0.00014274, "type": "quantitative"}, "y2": {"datum": 0.00006659}}}
  ]}
 ],
 "resolve": {"scale": {"y": "independent"}}
},
{
 "width": 1691, "height": 214,
 "data": {"name": "bars"},
 "layer": [
  {"mark": {"type": "area", "opacity": 1, "clip": true, "color": {"gradient": "linear", "x1": 0, "y1": 0, "x2": 0, "y2": 1, "stops": [{"offset": 0, "color": "rgba(76,175,80,0.85)"}, {"offset": 1, "color": "rgba(76,175,80,0)"}]}},
   "encoding": {
    "x": {"field": "time", "type": "temporal", "scale": {"type": "utc", "domain": [{"year":2025,"month":"Aug","date":25,"hours":7,"minutes":24,"utc":true},{"year":2025,"month":"Sep","date":19,"hours":2,"minutes":55,"utc":true}]},
          "axis": {"values": [{"year":2025,"month":"Aug","date":27,"utc":true},{"year":2025,"month":"Aug","date":29,"utc":true},{"year":2025,"month":"Sep","date":1,"utc":true},{"year":2025,"month":"Sep","date":3,"utc":true},{"year":2025,"month":"Sep","date":5,"utc":true},{"year":2025,"month":"Sep","date":7,"utc":true},{"year":2025,"month":"Sep","date":9,"utc":true},{"year":2025,"month":"Sep","date":11,"utc":true},{"year":2025,"month":"Sep","date":13,"utc":true},{"year":2025,"month":"Sep","date":15,"utc":true},{"year":2025,"month":"Sep","date":17,"utc":true},{"year":2025,"month":"Sep","date":19,"utc":true}],
                   "grid": true, "title": null, "labelExpr": "utcdate(datum.value) == 1 ? utcFormat(datum.value, '%b') : utcFormat(datum.value, '%-d')",
                   "labelFontWeight": {"condition": {"test": "utcdate(datum.value) == 1", "value": "bold"}, "value": "normal"},
                   "labelPadding": 27, "labelBaseline": "middle", "labelFlush": false, "labelOverlap": false}},
    "y": {"field": "rsi", "type": "quantitative", "scale": {"domain": [70, 96.67], "range": [54.2, 0], "clamp": true, "nice": false, "zero": false}, "axis": null},
    "y2": {"datum": 70}
   }},
  {"mark": {"type": "area", "opacity": 1, "clip": true, "color": {"gradient": "linear", "x1": 0, "y1": 0, "x2": 0, "y2": 1, "stops": [{"offset": 0, "color": "rgba(242,54,69,0)"}, {"offset": 1, "color": "rgba(242,54,69,1)"}]}},
   "encoding": {
    "x": {"field": "time", "type": "temporal"},
    "y": {"field": "rsi", "type": "quantitative", "scale": {"domain": [-8.62, 30], "range": [214, 135.5], "clamp": true, "nice": false, "zero": false}, "axis": null},
    "y2": {"datum": 30}
   }},
  {"layer": [
   {"data": {"values": [{}]}, "mark": {"type": "rect", "fill": "#7e57c2", "fillOpacity": 0.1},
    "encoding": {"x": {"datum": {"year":2025,"month":"Aug","date":25,"hours":7,"minutes":24,"utc":true}, "type": "temporal"}, "x2": {"datum": {"year":2025,"month":"Sep","date":19,"hours":2,"minutes":55,"utc":true}},
     "y": {"datum": 70, "type": "quantitative", "scale": {"domain": [-8.62, 96.67], "nice": false, "zero": false},
           "axis": {"orient": "right", "values": [0, 40, 80], "labelExpr": "datum.value == 0 ? '' : format(datum.value, '.2f')", "grid": true, "labelAlign": "left", "labelBaseline": "middle", "labelPadding": 17, "title": null}},
     "y2": {"datum": 30}}},
   {"data": {"values": [{}]}, "mark": {"type": "rule", "color": "#787b86", "strokeDash": [8, 6], "strokeWidth": 1.5}, "encoding": {"y": {"datum": 70, "type": "quantitative"}}},
   {"data": {"values": [{}]}, "mark": {"type": "rule", "color": "#787b86", "opacity": 0.5, "strokeDash": [8, 6], "strokeWidth": 1.5}, "encoding": {"y": {"datum": 50, "type": "quantitative"}}},
   {"data": {"values": [{}]}, "mark": {"type": "rule", "color": "#787b86", "strokeDash": [8, 6], "strokeWidth": 1.5}, "encoding": {"y": {"datum": 30, "type": "quantitative"}}},
   {"mark": {"type": "line", "color": "#7e57c2", "strokeWidth": 1.6, "clip": true}, "encoding": {"x": {"field": "time", "type": "temporal"}, "y": {"field": "rsi", "type": "quantitative"}}},
   {"mark": {"type": "line", "color": "#fdd835", "strokeWidth": 1.6, "clip": true}, "encoding": {"x": {"field": "time", "type": "temporal"}, "y": {"field": "rsi_ma", "type": "quantitative"}}},

   {"data": {"values": [{}]}, "mark": {"type": "text", "text": "RSI (14, close)", "align": "left", "baseline": "alphabetic", "fontSize": 23.5, "color": "#131722"}, "encoding": {"x": {"datum": {"year":2025,"month":"Aug","date":25,"hours":12,"minutes":32,"utc":true}, "type": "temporal"}, "y": {"datum": 76.59, "type": "quantitative"}}},
   {"data": {"values": [{}]}, "mark": {"type": "text", "text": "1.64", "align": "left", "baseline": "alphabetic", "fontSize": 23.5, "color": "#7e57c2"}, "encoding": {"x": {"datum": {"year":2025,"month":"Aug","date":27,"hours":23,"minutes":38,"utc":true}, "type": "temporal"}, "y": {"datum": 76.59, "type": "quantitative"}}},
   {"data": {"values": [{}]}, "mark": {"type": "text", "text": "1.64", "align": "left", "baseline": "alphabetic", "fontSize": 23.5, "color": "#fdd835"}, "encoding": {"x": {"datum": {"year":2025,"month":"Aug","date":28,"hours":21,"minutes":24,"utc":true}, "type": "temporal"}, "y": {"datum": 76.59, "type": "quantitative"}}},

   {"data": {"values": [{}]}, "mark": {"type": "rect", "fill": "white", "xOffset": 1, "x2Offset": 146, "y2Offset": 16},
    "encoding": {"x": {"datum": {"year":2025,"month":"Sep","date":19,"hours":2,"minutes":55,"utc":true}, "type": "temporal"}, "x2": {"datum": {"year":2025,"month":"Sep","date":19,"hours":2,"minutes":55,"utc":true}}, "y": {"datum": 96.67, "type": "quantitative"}, "y2": {"datum": 96.67}}},
   {"data": {"values": [{}]}, "mark": {"type": "rect", "fill": "white", "xOffset": 1, "x2Offset": 140, "yOffset": 2, "y2Offset": 53},
    "encoding": {"x": {"datum": {"year":2025,"month":"Sep","date":19,"hours":2,"minutes":55,"utc":true}, "type": "temporal"}, "x2": {"datum": {"year":2025,"month":"Sep","date":19,"hours":2,"minutes":55,"utc":true}}, "y": {"datum": -8.62, "type": "quantitative"}, "y2": {"datum": -8.62}}},

   {"data": {"values": [{}]}, "mark": {"type": "rect", "fill": "#fdd835", "x2Offset": 75, "yOffset": -50.6, "y2Offset": -17.6, "cornerRadiusTopRight": 4, "cornerRadiusBottomRight": 4},
    "encoding": {"x": {"datum": {"year":2025,"month":"Sep","date":19,"hours":2,"minutes":55,"utc":true}, "type": "temporal"}, "x2": {"datum": {"year":2025,"month":"Sep","date":19,"hours":2,"minutes":55,"utc":true}}, "y": {"datum": 1.64, "type": "quantitative"}, "y2": {"datum": 1.64}}},
   {"data": {"values": [{}]}, "mark": {"type": "text", "text": "1.64", "align": "left", "baseline": "middle", "fontSize": 23.5, "color": "#131722", "xOffset": 18, "yOffset": -34},
    "encoding": {"x": {"datum": {"year":2025,"month":"Sep","date":19,"hours":2,"minutes":55,"utc":true}, "type": "temporal"}, "y": {"datum": 1.64, "type": "quantitative"}}},
   {"data": {"values": [{}]}, "mark": {"type": "rect", "fill": "#7e57c2", "x2Offset": 75, "yOffset": -17.6, "y2Offset": 16.4, "cornerRadiusTopRight": 4, "cornerRadiusBottomRight": 4},
    "encoding": {"x": {"datum": {"year":2025,"month":"Sep","date":19,"hours":2,"minutes":55,"utc":true}, "type": "temporal"}, "x2": {"datum": {"year":2025,"month":"Sep","date":19,"hours":2,"minutes":55,"utc":true}}, "y": {"datum": 1.64, "type": "quantitative"}, "y2": {"datum": 1.64}}},
   {"data": {"values": [{}]}, "mark": {"type": "text", "text": "1.64", "align": "left", "baseline": "middle", "fontSize": 23.5, "color": "white", "xOffset": 18, "yOffset": -0.5},
    "encoding": {"x": {"datum": {"year":2025,"month":"Sep","date":19,"hours":2,"minutes":55,"utc":true}, "type": "temporal"}, "y": {"datum": 1.64, "type": "quantitative"}}},

   {"data": {"values": [{}]}, "mark": {"type": "rule", "color": "#e0e3eb", "strokeWidth": 1.5, "x2Offset": 146},
    "encoding": {"x": {"datum": {"year":2025,"month":"Sep","date":19,"hours":2,"minutes":55,"utc":true}, "type": "temporal"}, "x2": {"datum": {"year":2025,"month":"Sep","date":19,"hours":2,"minutes":55,"utc":true}}, "y": {"datum": 96.67, "type": "quantitative"}}},
   {"data": {"values": [{}]}, "mark": {"type": "rule", "color": "#e0e3eb", "strokeWidth": 1.5, "x2Offset": 146},
    "encoding": {"x": {"datum": {"year":2025,"month":"Sep","date":19,"hours":2,"minutes":55,"utc":true}, "type": "temporal"}, "x2": {"datum": {"year":2025,"month":"Sep","date":19,"hours":2,"minutes":55,"utc":true}}, "y": {"datum": -8.62, "type": "quantitative"}}},
   {"data": {"values": [{}]}, "mark": {"type": "rule", "color": "#e0e3eb", "strokeWidth": 1.5, "xOffset": 146, "y2Offset": 55},
    "encoding": {"x": {"datum": {"year":2025,"month":"Sep","date":19,"hours":2,"minutes":55,"utc":true}, "type": "temporal"}, "y": {"datum": 96.67, "type": "quantitative"}, "y2": {"datum": -8.62}}},
   {"data": {"values": [{}]}, "mark": {"type": "rule", "color": "#e0e3eb", "strokeWidth": 1.5, "y2Offset": 55},
    "encoding": {"x": {"datum": {"year":2025,"month":"Aug","date":25,"hours":7,"minutes":24,"utc":true}, "type": "temporal"}, "y": {"datum": -8.62, "type": "quantitative"}, "y2": {"datum": -8.62}}},
   {"data": {"values": [{}]}, "mark": {"type": "rule", "color": "#e0e3eb", "strokeWidth": 1.5, "y2Offset": 55},
    "encoding": {"x": {"datum": {"year":2025,"month":"Sep","date":19,"hours":2,"minutes":55,"utc":true}, "type": "temporal"}, "y": {"datum": -8.62, "type": "quantitative"}, "y2": {"datum": -8.62}}},
   {"data": {"values": [{}]}, "mark": {"type": "rule", "color": "#e0e3eb", "strokeWidth": 1.5, "x2Offset": 146, "yOffset": 55},
    "encoding": {"x": {"datum": {"year":2025,"month":"Aug","date":25,"hours":7,"minutes":24,"utc":true}, "type": "temporal"}, "x2": {"datum": {"year":2025,"month":"Sep","date":19,"hours":2,"minutes":55,"utc":true}}, "y": {"datum": -8.62, "type": "quantitative"}}},

   {"data": {"values": [{}]}, "mark": {"type": "point", "shape": "M-0.988,-0.5L-0.178,-0.5L-0.178,0.5L-0.588,0.5L-0.588,-0.113L-0.988,-0.113Z M-0.098,-0.3A0.2,0.2 0 1 0 0.302,-0.3A0.2,0.2 0 1 0 -0.098,-0.3Z M0.435,-0.5L0.988,-0.5L0.578,0.5L-0.012,0.5Z", "size": 3600, "filled": true, "fill": "#131722", "strokeWidth": 0, "opacity": 1},
    "encoding": {"x": {"datum": {"year":2025,"month":"Aug","date":25,"hours":19,"minutes":15,"utc":true}, "type": "temporal"}, "y": {"datum": -64.81, "type": "quantitative"}}},
   {"data": {"values": [{}]}, "mark": {"type": "text", "text": "TradingView", "align": "left", "baseline": "alphabetic", "font": "Inter", "fontSize": 39.5, "fontWeight": 600, "color": "#131722"},
    "encoding": {"x": {"datum": {"year":2025,"month":"Aug","date":26,"hours":10,"minutes":21,"utc":true}, "type": "temporal"}, "y": {"datum": -72.19, "type": "quantitative"}}}
  ]}
 ],
 "resolve": {"scale": {"y": "independent"}}
}
]
}
